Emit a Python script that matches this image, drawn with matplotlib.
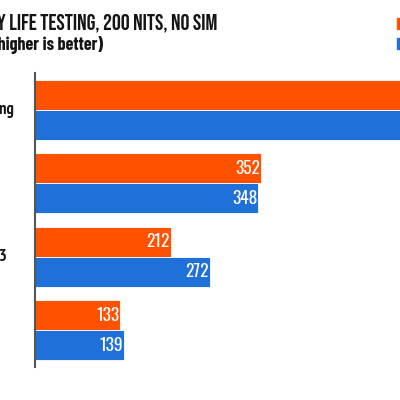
import matplotlib
matplotlib.use("Agg")
import matplotlib.pyplot as plt
from matplotlib.patches import Patch

# battery life in minutes, two phones, four tests
tests = ["Web browsing", "Video", "Geekbench 3", "GFXBench"]
phone_a = [640, 352, 212, 133]
phone_b = [625, 348, 272, 139]
series_names = ["Phone A", "Phone B"]

ORANGE = "#FF5200"
BLUE = "#1F70D8"
INK = "#151515"

plt.rcParams["font.family"] = ["Roboto Condensed", "DejaVu Sans"]

fig = plt.figure(figsize=(4, 4), dpi=100)
# axes runs past the right edge of the canvas, like the cropped original
ax = fig.add_axes([35 / 400, 33 / 400, 365 / 400, 294 / 400])

h = 0.41
ypos = list(range(len(tests)))
bars_a = ax.barh([y - h / 2 for y in ypos], phone_a, height=h, color=ORANGE,
                 edgecolor="white", linewidth=0.6)
bars_b = ax.barh([y + h / 2 for y in ypos], phone_b, height=h, color=BLUE,
                 edgecolor="white", linewidth=0.6)

for bars, vals in [(bars_a, phone_a), (bars_b, phone_b)]:
    for b, v in zip(bars, vals):
        ax.text(v - 2, b.get_y() + b.get_height() / 2, str(v), color="white",
                ha="right", va="center", fontsize=12.5, family="Oswald")

ax.set_xlim(0, 365 / 0.642)
ax.set_ylim(len(tests) - 0.5, -0.5)
ax.set_xticks([])
ax.set_yticks([])
for s in ["top", "right", "bottom"]:
    ax.spines[s].set_visible(False)
ax.spines["left"].set_color("#555555")
ax.spines["left"].set_linewidth(1.5)

# category labels are left aligned and mostly cut off at the canvas edge
renderer = fig.canvas.get_renderer()
probe = fig.text(0, 0, tests[0], fontsize=12, fontweight="bold", family="PT Sans Narrow")
label_w = probe.get_window_extent(renderer).width
probe.remove()
label_x = (14 - label_w) / 400
for y, name in zip(ypos, tests):
    fy = ax.transData.transform((0, y))[1] / 400
    fig.text(label_x, fy, name, ha="left", va="center", fontsize=12,
             fontweight="bold", family="PT Sans Narrow", color=INK)

fig.text(217 / 400, 1 - 23 / 400, "BATTERY LIFE TESTING, 200 NITS, NO SIM",
         fontsize=16, family="Bebas Neue", ha="right",
         va="center", color=INK)
fig.text(103 / 400, 1 - 45 / 400, "Minutes (higher is better)",
         fontsize=13, fontweight=700, family="Barlow Condensed", ha="right",
         va="center", color=INK)

handles = [Patch(color=ORANGE), Patch(color=BLUE)]
fig.legend(handles, series_names, loc="upper left",
           bbox_to_anchor=(397 / 400, 1 - 18 / 400), frameon=False,
           handlelength=0.7, handleheight=0.7, borderpad=0, borderaxespad=0,
           labelspacing=0.4, fontsize=11)

fig.savefig("out.png", dpi=100)
